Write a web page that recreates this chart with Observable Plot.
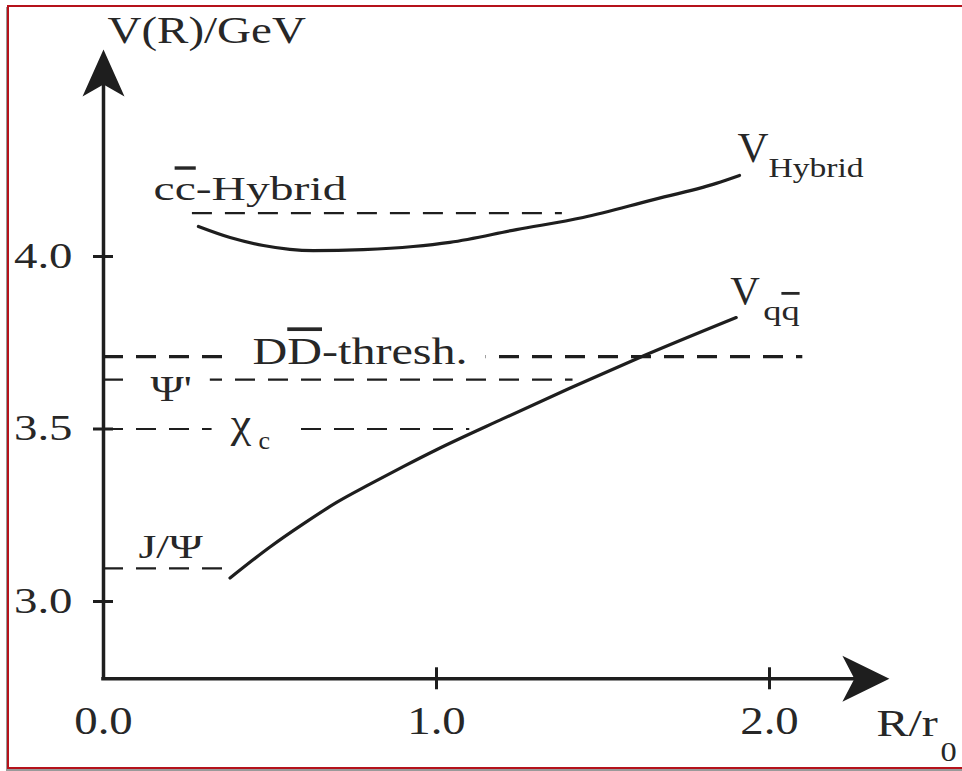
<!DOCTYPE html>
<html>
<head>
<meta charset="utf-8">
<script src="https://cdn.jsdelivr.net/npm/d3@7"></script>
<script src="https://cdn.jsdelivr.net/npm/@observablehq/plot@0.6"></script>
<style>
  html, body { margin: 0; padding: 0; background: #fff; overflow: hidden; }
  #border { position: absolute; left: 7px; top: 5px; width: 1000px; height: 760px;
            border: 2px solid #b5121b; box-shadow: -1px 2px 0 #9a9a9a; }
  #chart { position: absolute; left: 0; top: 0; }
</style>
</head>
<body>
<div id="border"></div>
<div id="chart"></div>
<script>
// Axes: R/r0 (horizontal) and V(R) in GeV (vertical)
const xTicks = [0, 1, 2];
const xTickLabels = ["0.0", "1.0", "2.0"];
const yTicks = [3.0, 3.5, 4.0];
const yTickLabels = ["3.0", "3.5", "4.0"];
const xExtent = [0, 2.36];      // axis runs from the origin to the arrow tip
const yExtent = [2.776, 4.6];

// Charmonium levels (GeV) and the extent of their dashed lines in R/r0
const levelNames = ["J/Ψ", "χc", "Ψ'", "DD̄-thresh.", "cc̄-Hybrid"];
const levelMass = [3.096, 3.50, 3.643, 3.710, 4.126];
const levelFrom = [0, 0, 0, 0, 0.267];
const levelTo = [0.375, 1.10, 1.41, 2.10, 1.378];

// Static quark-antiquark potential
const qqR = [0.38, 0.5, 0.6, 0.7, 0.8, 0.9, 1.0, 1.2, 1.4, 1.6, 1.9];
const qqV = [3.068, 3.158, 3.225, 3.287, 3.340, 3.391, 3.440, 3.530, 3.618, 3.703, 3.823];

// Hybrid (excited gluon) potential
const hybR = [0.285, 0.38, 0.48, 0.63, 0.78, 0.93, 1.04, 1.24, 1.44, 1.64, 1.84, 1.91];
const hybV = [4.087, 4.055, 4.032, 4.017, 4.020, 4.029, 4.041, 4.078, 4.113, 4.162, 4.212, 4.235];

const levels = levelNames.map((name, i) => ({name, mass: levelMass[i], from: levelFrom[i], to: levelTo[i]}));
const qq = qqR.map((r, i) => ({r, v: qqV[i]}));
const hyb = hybR.map((r, i) => ({r, v: hybV[i]}));
const qqEnd = qq[qq.length - 1];
const hybEnd = hyb[hyb.length - 1];
const origin = {x: xExtent[0], y: yExtent[0]};

const ink = "#1e1e1e";
const textInk = "#272727";
const serif = "'Liberation Serif', 'Times New Roman', serif";

// filled arrowheads with a notched back, tip at the symbol origin
const headUp = {draw(c) { c.moveTo(0, 0); c.lineTo(21, 47); c.lineTo(0, 35); c.lineTo(-21, 47); c.closePath(); }};
const headRight = {draw(c) { c.moveTo(0, 0); c.lineTo(-47, 23); c.lineTo(-35, 0); c.lineTo(-47, -23); c.closePath(); }};

// text marks in drawing order, each with its horizontal stretch and whether it breaks a dashed line
const textMarks = [];
function textMark(data, options, k = 1.3, gap = false) {
  const m = Plot.text(data, {lineAnchor: "bottom", fill: textInk, fontFamily: serif, ...options});
  textMarks.push({k, gap});
  return m;
}
function label(datum, x, y, text, {dx = 0, dy = 0, size = 36, k = 1.3, gap = false}) {
  return textMark([datum], {x, y, text: () => text, dx, dy, fontSize: size, textAnchor: "start"}, k, gap);
}

const level = name => levels.find(d => d.name === name);

const chart = Plot.plot({
  width: 962,
  height: 771,
  margin: 0,
  x: {domain: [0, 2], range: [103, 769], axis: null},
  y: {domain: [3, 4], range: [601, 256], axis: null},
  marks: [
    // dashed level lines
    Plot.ruleY(levels.filter(d => !d.name.startsWith("D")), {
      y: "mass", x1: "from", x2: "to", stroke: ink, strokeWidth: 2.2, strokeDasharray: "20,13"
    }),
    Plot.ruleY(levels.filter(d => d.name.startsWith("D")), {
      y: "mass", x1: "from", x2: "to", stroke: ink, strokeWidth: 3.2, strokeDasharray: "20,13"
    }),
    // axes with arrowheads
    Plot.ruleY([origin], {y: "y", x1: xExtent[0], x2: xExtent[1], insetRight: 30, stroke: ink, strokeWidth: 3.5, strokeLinecap: "square"}),
    Plot.ruleX([origin], {x: "x", y1: yExtent[1], y2: yExtent[0], insetTop: 30, stroke: ink, strokeWidth: 3.5, strokeLinecap: "square"}),
    Plot.dot([{x: xExtent[0], y: yExtent[1]}], {x: "x", y: "y", symbol: headUp, fill: ink, stroke: "none"}),
    Plot.dot([{x: xExtent[1], y: yExtent[0]}], {x: "x", y: "y", symbol: headRight, fill: ink, stroke: "none"}),
    // tick marks across the axes
    Plot.ruleY(yTicks, {y: d => d, x1: 0, x2: 0, insetLeft: -10, insetRight: -10, stroke: ink, strokeWidth: 3}),
    Plot.ruleX(xTicks.filter(d => d > 0), {x: d => d, y1: yExtent[0], y2: yExtent[0], insetTop: -11, insetBottom: -11, stroke: ink, strokeWidth: 3}),
    // potentials
    Plot.line(qq, {x: "r", y: "v", curve: "monotone-x", stroke: ink, strokeWidth: 3.2}),
    Plot.line(hyb, {x: "r", y: "v", curve: "monotone-x", stroke: ink, strokeWidth: 3.2}),
    // tick labels
    textMark(yTicks, {x: 0, y: d => d, text: (d, i) => yTickLabels[i], textAnchor: "end", dx: -31, dy: 11, fontSize: 36}, 1.3),
    textMark(xTicks, {x: d => d, y: yExtent[0], text: (d, i) => xTickLabels[i], textAnchor: "middle", dy: 55, fontSize: 39}, 1.2),
    // axis titles
    label({x: 0, y: yExtent[1]}, "x", "y", "V(R)/GeV", {dx: 4, dy: -7, size: 37, k: 1.27}),
    label({x: xExtent[1], y: yExtent[0]}, "x", "y", "R/r", {dx: -13, dy: 57, size: 37, k: 1.3}),
    label({x: xExtent[1], y: yExtent[0]}, "x", "y", "0", {dx: 51, dy: 82, size: 27, k: 1.2}),
    // level labels
    label(level("J/Ψ"), 0, "mass", "J/Ψ", {dx: 35, dy: -10, size: 34, k: 1.35}),
    label(level("χc"), 0, "mass", "χ", {dx: 127, dy: 8, size: 40, k: 1.15, gap: true}),
    label(level("χc"), 0, "mass", "c", {dx: 155, dy: 20, size: 26, k: 1.0, gap: true}),
    label(level("Ψ'"), 0, "mass", "Ψ'", {dx: 47, dy: 21, size: 36, k: 1.25, gap: true}),
    label(level("DD̄-thresh."), 0, "mass", "DD\u0304-thresh.", {dx: 149, dy: 7, size: 37, k: 1.3, gap: true}),
    label(level("cc̄-Hybrid"), 0, "mass", "cc\u0304-Hybrid", {dx: 50, dy: -13, size: 34, k: 1.4}),
    // potential labels
    label(hybEnd, "r", "v", "V", {dx: -2, dy: -13, size: 43, k: 1.0}),
    label(hybEnd, "r", "v", "Hybrid", {dx: 29, dy: 2, size: 28, k: 1.2}),
    label(qqEnd, "r", "v", "V", {dx: -6, dy: -14, size: 41, k: 1.0}),
    label(qqEnd, "r", "v", "qq\u0304", {dx: 27, dy: 2, size: 28, k: 1.3})
  ]
});

document.getElementById("chart").appendChild(chart);

const SVGNS = "http://www.w3.org/2000/svg";

// a letter followed by a combining macron gets a real overline
chart.querySelectorAll("text").forEach(t => {
  const s = t.textContent;
  if (!s.includes("\u0304")) return;
  t.textContent = "";
  let plain = "";
  for (let i = 0; i < s.length; i++) {
    if (s[i + 1] === "\u0304") {
      if (plain) { t.appendChild(document.createTextNode(plain)); plain = ""; }
      const ts = document.createElementNS(SVGNS, "tspan");
      ts.textContent = s[i];
      ts.setAttribute("style", "text-decoration: overline");
      t.appendChild(ts);
      i++;
    } else plain += s[i];
  }
  if (plain) t.appendChild(document.createTextNode(plain));
});

// text mark groups come out in the same order as the text marks were declared
const textGroups = Array.from(chart.querySelectorAll("g[aria-label='text']"));
textGroups.forEach((g, i) => {
  const spec = textMarks[i] || {k: 1, gap: false};
  g.dataset.gap = spec.gap ? "1" : "0";
  Array.from(g.querySelectorAll("text")).forEach(t => {
    // widen the serif glyphs horizontally about the text's anchor
    const wrap = document.createElementNS(SVGNS, "g");
    t.parentNode.insertBefore(wrap, t);
    wrap.appendChild(t);
    const bb = wrap.getBBox();
    const a = getComputedStyle(t).textAnchor;
    const ax = a === "end" ? bb.x + bb.width : a === "middle" ? bb.x + bb.width / 2 : bb.x;
    wrap.setAttribute("transform", `translate(${ax},0) scale(${spec.k},1) translate(${-ax},0)`);
  });
});

// labels sitting on a level line break the dashes around them;
// the blanking goes under every text so no label hides another
const box = chart.getBoundingClientRect();
const firstText = textGroups[0];
textGroups.filter(g => g.dataset.gap === "1").forEach(g => {
  g.querySelectorAll("text").forEach(t => {
    const b = t.getBoundingClientRect();
    const r = document.createElementNS(SVGNS, "rect");
    r.setAttribute("x", b.left - box.left - 18);
    r.setAttribute("y", b.top - box.top + 2);
    r.setAttribute("width", b.width + 36);
    r.setAttribute("height", Math.max(0, b.height - 4));
    r.setAttribute("fill", "#fff");
    firstText.parentNode.insertBefore(r, firstText);
  });
});
</script>
</body>
</html>
